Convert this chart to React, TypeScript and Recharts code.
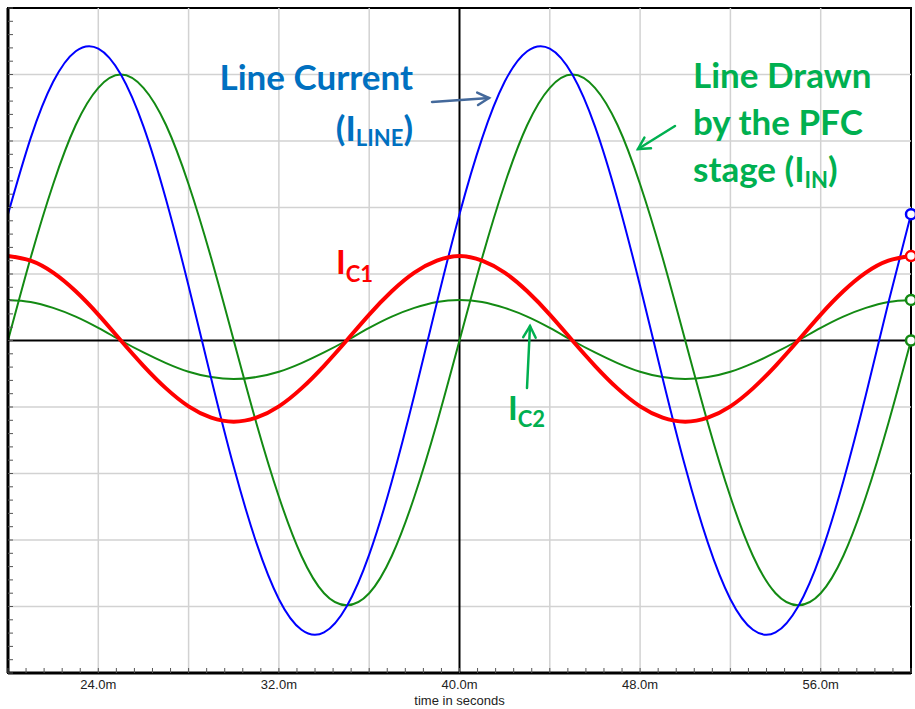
import React from 'react';
import { LineChart, Line, XAxis, YAxis, ReferenceLine, ReferenceArea } from 'recharts';

// time axis in ms (labels show "m" for milli-seconds)
const timeMs = [
  20, 21, 22, 23, 24, 25, 26, 27, 28, 29, 30, 31, 32, 33, 34, 35, 36, 37, 38, 39, 40,
  41, 42, 43, 44, 45, 46, 47, 48, 49, 50, 51, 52, 53, 54, 55, 56, 57, 58, 59, 60,
];

// Line current (I_LINE), blue
const iLine = [
  1.9, 3.04, 3.89, 4.35, 4.39, 4.0, 3.22, 2.12, 0.82, -0.57, -1.9, -3.04, -3.89, -4.35, -4.39, -4.0, -3.22, -2.12, -0.82, 0.57,
  1.9, 3.04, 3.89, 4.35, 4.39, 4.0, 3.22, 2.12, 0.82, -0.57, -1.9, -3.04, -3.89, -4.35, -4.39, -4.0, -3.22, -2.12, -0.82, 0.57,
  1.9,
];

// current drawn by the PFC stage (I_IN), green
const iIn = [
  0, 1.24, 2.35, 3.24, 3.8, 4.0, 3.8, 3.24, 2.35, 1.24, 0, -1.24, -2.35, -3.24, -3.8, -3.98, -3.8, -3.24, -2.35, -1.24,
  0, 1.24, 2.35, 3.24, 3.8, 4.0, 3.8, 3.24, 2.35, 1.24, 0, -1.24, -2.35, -3.24, -3.8, -3.98, -3.8, -3.24, -2.35, -1.24,
  0,
];

// I_C1, red
const iC1 = [
  1.27, 1.2, 1.02, 0.74, 0.39, 0, -0.38, -0.72, -0.99, -1.16, -1.22, -1.16, -0.99, -0.72, -0.38, 0, 0.39, 0.74, 1.02, 1.2,
  1.27, 1.2, 1.02, 0.74, 0.39, 0, -0.38, -0.72, -0.99, -1.16, -1.22, -1.16, -0.99, -0.72, -0.38, 0, 0.39, 0.74, 1.02, 1.2,
  1.27,
];

// I_C2, green
const iC2 = [
  0.61, 0.58, 0.49, 0.36, 0.19, 0, -0.18, -0.34, -0.47, -0.55, -0.58, -0.55, -0.47, -0.34, -0.18, 0, 0.19, 0.36, 0.49, 0.58,
  0.61, 0.58, 0.49, 0.36, 0.19, 0, -0.18, -0.34, -0.47, -0.55, -0.58, -0.55, -0.47, -0.34, -0.18, 0, 0.19, 0.36, 0.49, 0.58,
  0.61,
];

const xLabelTicks = [24, 32, 40, 48, 56];
const xGridLines = [24, 28, 32, 36, 44, 48, 52, 56];
const yGridLines = [-4, -3, -2, -1, 1, 2, 3, 4];

const xMinorTicks: number[] = [];
for (let i = 0; i <= 50; i++) xMinorTicks.push(Math.round((20 + i * 0.8) * 10) / 10);
const yMinorTicks: number[] = [];
for (let i = 0; i <= 50; i++) yMinorTicks.push(Math.round((-5 + i * 0.2) * 10) / 10);

const data = timeMs.map((t, i) => ({
  t,
  iLine: iLine[i],
  iIn: iIn[i],
  iC1: iC1[i],
  iC2: iC2[i],
}));

const lastIndex = data.length - 1;

const endDot = (color: string) => (props: any) => {
  if (props.index !== lastIndex) return <g key={`d-${props.index}`} />;
  return (
    <circle key={`d-${props.index}`} cx={props.cx} cy={props.cy} r={5} stroke={color} strokeWidth={2.5} fill="#fff" />
  );
};

const XTick = (props: any) => {
  const { x, y, payload } = props;
  const v = payload.value;
  const isLabel = xLabelTicks.some((l) => Math.abs(l - v) < 0.01);
  return (
    <g>
      <line x1={x} y1={y} x2={x} y2={y - 5} stroke="#555" strokeWidth={1} />
      {isLabel && (
        <text x={x} y={y + 16} textAnchor="middle" fontSize={13} fill="#222" fontFamily="Liberation Sans, Arial, sans-serif">
          {v.toFixed(1)}m
        </text>
      )}
    </g>
  );
};

const YTick = (props: any) => {
  const { x, y } = props;
  return <line x1={x} y1={y} x2={x + 5} y2={y} stroke="#555" strokeWidth={1} />;
};

const blueText = '#0070C0';
const greenText = '#00B050';

const Arrow = ({ x1, y1, x2, y2, color }: { x1: number; y1: number; x2: number; y2: number; color: string }) => {
  const a = Math.atan2(y2 - y1, x2 - x1);
  const h = 13;
  const s = 0.5;
  return (
    <g stroke={color} strokeWidth={2.5} fill="none" strokeLinecap="round">
      <line x1={x1} y1={y1} x2={x2} y2={y2} />
      <polyline
        points={`${x2 - h * Math.cos(a - s)},${y2 - h * Math.sin(a - s)} ${x2},${y2} ${x2 - h * Math.cos(a + s)},${y2 - h * Math.sin(a + s)}`}
      />
    </g>
  );
};

const Annotations = () => (
  <svg
    width={915}
    height={709}
    style={{ position: 'absolute', left: 0, top: 0, pointerEvents: 'none' }}
    fontFamily="Lato, Calibri, sans-serif"
    fontWeight={700}
  >
    <text x={413} y={90} textAnchor="end" fontSize={35} fill={blueText}>Line Current</text>
    <text x={413} y={141} textAnchor="end" fontSize={35} fill={blueText}>
      (I<tspan fontSize={22} dy={5}>LINE</tspan><tspan dy={-5}>)</tspan>
    </text>
    <Arrow x1={432} y1={102} x2={489} y2={98} color="#44699B" />

    <text x={693} y={88} fontSize={35} fill={greenText}>Line Drawn</text>
    <text x={693} y={135} fontSize={35} fill={greenText}>by the PFC</text>
    <text x={693} y={182} fontSize={35} fill={greenText}>
      stage (I<tspan fontSize={22} dy={6}>IN</tspan><tspan dy={-6}>)</tspan>
    </text>
    <Arrow x1={675} y1={126} x2={638} y2={149} color={greenText} />

    <text x={336} y={274} fontSize={33} fill="#FF0000">
      I<tspan fontSize={22} dy={8}>C1</tspan>
    </text>

    <text x={508} y={420} fontSize={33} fill={greenText}>
      I<tspan fontSize={22} dy={7}>C2</tspan>
    </text>
    <Arrow x1={527} y1={388} x2={530} y2={326} color={greenText} />
  </svg>
);

export default function App() {
  return (
    <div style={{ position: 'absolute', left: 0, top: 0, width: 915, height: 709, background: '#fff' }}>
      <LineChart width={915} height={709} data={data} margin={{ top: 8, right: 4, left: 0, bottom: 0 }}>
        {xGridLines.map((v) => (
          <ReferenceLine key={`gx-${v}`} x={v} stroke="#d2d2d2" strokeWidth={1.5} />
        ))}
        {yGridLines.map((v) => (
          <ReferenceLine key={`gy-${v}`} y={v} stroke="#d2d2d2" strokeWidth={1.5} />
        ))}
        <ReferenceLine x={40} stroke="#000" strokeWidth={2} />
        <ReferenceLine y={0} stroke="#000" strokeWidth={2} />
        <XAxis
          dataKey="t"
          type="number"
          domain={[20, 60]}
          ticks={xMinorTicks}
          interval={0}
          tick={<XTick />}
          tickLine={false}
          tickSize={0}
          tickMargin={0}
          height={36}
          axisLine={{ stroke: '#000', strokeWidth: 3 }}
          label={{
            value: 'time in seconds',
            position: 'insideBottom',
            offset: 4,
            style: { fontSize: 13, fill: '#222', fontFamily: 'Liberation Sans, Arial, sans-serif' },
          }}
        />
        <YAxis
          type="number"
          domain={[-5, 5]}
          ticks={yMinorTicks}
          interval={0}
          tick={<YTick />}
          tickLine={false}
          tickSize={0}
          tickMargin={0}
          width={8}
          axisLine={{ stroke: '#000', strokeWidth: 3 }}
        />
        <Line type="natural" dataKey="iIn" stroke="#138A13" strokeWidth={2} dot={endDot('#138A13')} isAnimationActive={false} />
        <Line type="natural" dataKey="iC2" stroke="#138A13" strokeWidth={2} dot={endDot('#138A13')} isAnimationActive={false} />
        <Line type="natural" dataKey="iLine" stroke="#0000FF" strokeWidth={2} dot={endDot('#0000FF')} isAnimationActive={false} />
        <Line type="natural" dataKey="iC1" stroke="#FF0000" strokeWidth={4} dot={endDot('#FF0000')} isAnimationActive={false} />
        <ReferenceArea x1={20} x2={60} y1={-5} y2={5} fill="none" stroke="#000" strokeWidth={2} fillOpacity={0} />
      </LineChart>
      <Annotations />
    </div>
  );
}
